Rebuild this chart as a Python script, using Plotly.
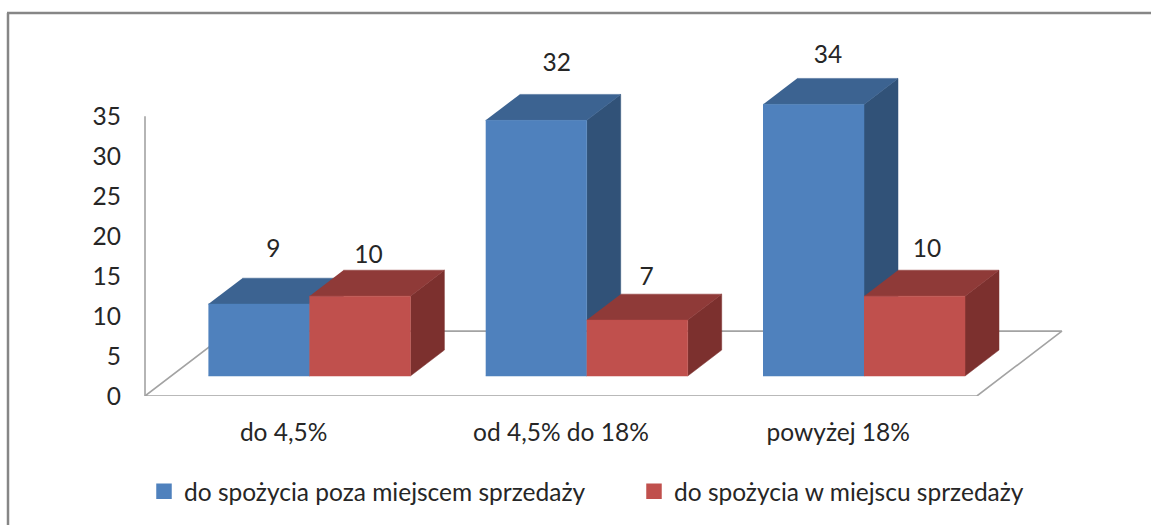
import plotly.graph_objects as go

categories = ["do 4,5%", "od 4,5% do 18%", "powyżej 18%"]
series_names = ["do spożycia poza miejscem sprzedaży", "do spożycia w miejscu sprzedaży"]
series_a = [9, 32, 34]
series_b = [10, 7, 10]
y_ticks = [0, 5, 10, 15, 20, 25, 30, 35]

W, H = 1151, 525
L, R, T, B = 135, 1151, 20, 396.5        # plot area in pixels
PX_PER_CAT, PX_PER_VAL = 277.3, 8.0
WALL_X = -0.5                            # category coordinate of the value wall (pixel 145)
X_MIN = WALL_X - 10 / PX_PER_CAT
X_MAX = X_MIN + (R - L) / PX_PER_CAT
Y_MAX = (B - T) / PX_PER_VAL

# oblique projection of the 3D scene
DEPTH_X = 85 / PX_PER_CAT
DEPTH_Y = 65 / PX_PER_VAL
BAR_D0, BAR_D1 = 20 / 65, 46 / 65
BAR_OFFSET = [-101.4 / PX_PER_CAT, -0.4 / PX_PER_CAT]
BAR_WIDTH = 101 / PX_PER_CAT

COLORS = [
    dict(front="#4F81BD", top="#3C6391", side="#315278"),
    dict(front="#C0504D", top="#8F3A38", side="#7C302E"),
]
GRID = "#A3A3A3"
TEXT = "#262626"
FONT = "Lato"
FS = 24.5


def proj(x, z, d):
    return x + DEPTH_X * d, z + DEPTH_Y * d


def poly(points, color):
    xs, ys = zip(*[proj(*p) for p in points])
    return go.Scatter(x=list(xs), y=list(ys), mode="lines", fill="toself", fillcolor=color,
                      line=dict(color=color, width=0.5), showlegend=False, hoverinfo="skip")


fig = go.Figure()

# floor and value wall edge
floor = [(WALL_X, 0, 0), (2.5, 0, 0), (2.5, 0, 1), (WALL_X, 0, 1), (WALL_X, 0, 0)]
fx, fy = zip(*[proj(*p) for p in floor])
fig.add_trace(go.Scatter(x=list(fx), y=list(fy), mode="lines", line=dict(color=GRID, width=1.6),
                         cliponaxis=False, showlegend=False, hoverinfo="skip"))
fig.add_trace(go.Scatter(x=[WALL_X, WALL_X], y=[0, y_ticks[-1]], mode="lines",
                         line=dict(color=GRID, width=1.6), cliponaxis=False,
                         showlegend=False, hoverinfo="skip"))

# bars, back to front / left to right
for i in range(len(categories)):
    for s, vals in enumerate([series_a, series_b]):
        v = vals[i]
        x0 = i + BAR_OFFSET[s]
        x1 = x0 + BAR_WIDTH
        c = COLORS[s]
        fig.add_trace(poly([(x1, 0, BAR_D0), (x1, 0, BAR_D1), (x1, v, BAR_D1), (x1, v, BAR_D0)], c["side"]))
        fig.add_trace(poly([(x0, v, BAR_D0), (x1, v, BAR_D0), (x1, v, BAR_D1), (x0, v, BAR_D1)], c["top"]))
        fig.add_trace(poly([(x0, 0, BAR_D0), (x1, 0, BAR_D0), (x1, v, BAR_D0), (x0, v, BAR_D0)], c["front"]))

# data labels (offsets from top-face centre, in pixels)
label_nudge = [[(-2.5, 40), (-8.5, 26)], [(3.5, 43), (-7.5, 28.5)], [(-2.5, 35), (-4.5, 32)]]
for i in range(len(categories)):
    for s, vals in enumerate([series_a, series_b]):
        v = vals[i]
        nx, ny = label_nudge[i][s]
        cx = i + BAR_OFFSET[s] + BAR_WIDTH / 2
        lx, ly = proj(cx, v, (BAR_D0 + BAR_D1) / 2)
        fig.add_trace(go.Scatter(x=[lx + nx / PX_PER_CAT], y=[ly + ny / PX_PER_VAL], mode="text",
                                 text=[str(v)], textposition="middle center",
                                 textfont=dict(family=FONT, size=FS, color=TEXT),
                                 cliponaxis=False, showlegend=False, hoverinfo="skip"))

# legend entries
for s, name in enumerate(series_names):
    fig.add_trace(go.Scatter(x=[None], y=[None], mode="markers", name=name,
                             marker=dict(symbol="square", size=15.5, color=COLORS[s]["front"])))


def px(x):
    return (x - L) / (R - L)


def py(y):
    return (B - y) / (B - T)


fig.update_layout(
    width=W, height=H, autosize=False,
    margin=dict(l=L, r=W - R, t=T, b=H - B, autoexpand=False),
    paper_bgcolor="white", plot_bgcolor="white",
    font=dict(family=FONT, size=FS, color=TEXT),
    xaxis=dict(range=[X_MIN, X_MAX], tickmode="array", tickvals=[0, 1, 2], ticktext=categories,
               showgrid=False, zeroline=False, showline=False, ticks="", ticklabelstandoff=19,
               tickangle=0, fixedrange=True),
    yaxis=dict(range=[0, Y_MAX], tickmode="array", tickvals=y_ticks, ticktext=[str(t) for t in y_ticks],
               showgrid=False, zeroline=False, showline=False, ticks="", ticklabelstandoff=13,
               fixedrange=True),
    legend=dict(orientation="h", x=px(144), y=py(492), xanchor="left", yanchor="middle",
                entrywidthmode="pixels", entrywidth=445, itemwidth=30,
                font=dict(family=FONT, size=FS, color=TEXT), bgcolor="rgba(0,0,0,0)",
                traceorder="normal", itemclick=False, itemdoubleclick=False),
    shapes=[
        dict(type="line", xref="paper", yref="paper", x0=px(8), x1=px(8), y0=py(13), y1=py(H + 2),
             line=dict(color="#868686", width=2.5)),
        dict(type="line", xref="paper", yref="paper", x0=px(7), x1=px(W + 2), y0=py(13), y1=py(13),
             line=dict(color="#868686", width=2.5)),
    ],
)

fig.write_html("out.html", config=dict(displayModeBar=False),
               post_script="document.body.style.margin='0';")
